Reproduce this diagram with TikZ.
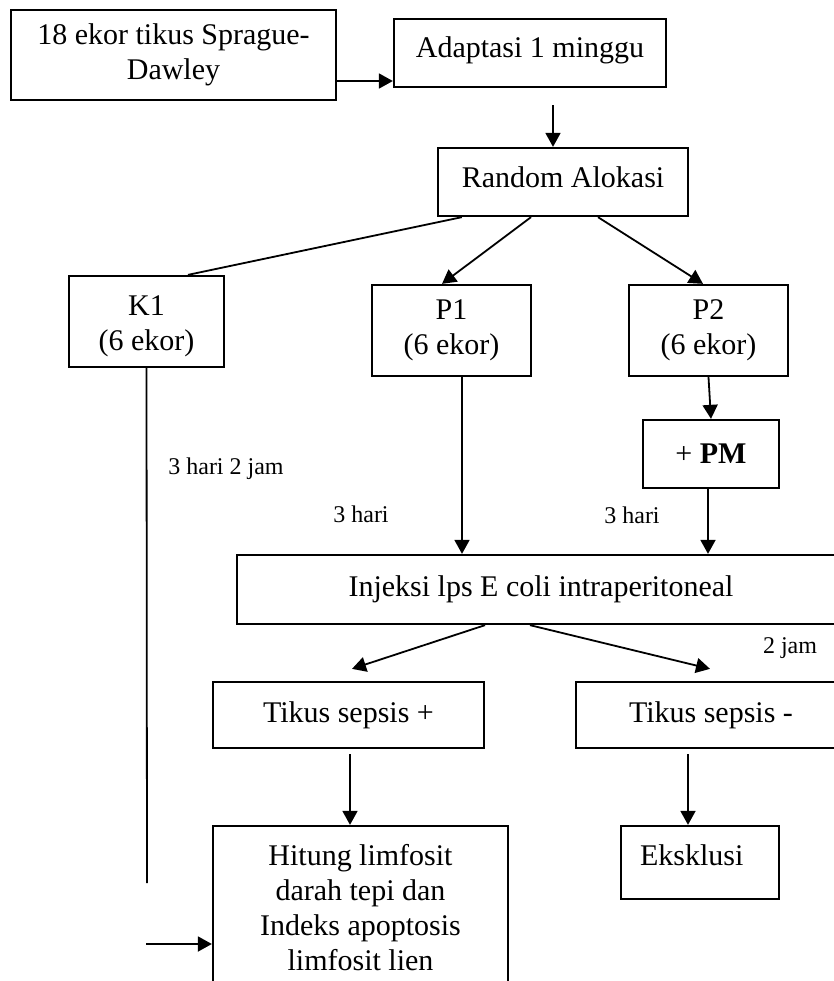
\documentclass[tikz,border=0pt]{standalone}
\usepackage{fontspec}
\setmainfont{Liberation Serif}
\usetikzlibrary{arrows.meta}
\begin{document}
\begin{tikzpicture}[x=0.5pt,y=-0.5pt,
  box/.style={draw,line width=1.15pt,rectangle,inner sep=0pt,align=center,
    font=\fontsize{15}{17.5}\selectfont},
  arr/.style={line width=0.9pt,-{Triangle[length=7pt,width=7.5pt]}},
  link/.style={line width=0.9pt},
  note/.style={font=\fontsize{12}{14}\selectfont,inner sep=0pt}]
\clip (0,0) rectangle (834,981);

% boxes
\node[box,minimum width=162.5pt,minimum height=45pt] (start) at (173.5,55) {18 ekor tikus Sprague-\\Dawley};
\node[box,minimum width=136pt,minimum height=34pt,text height=10pt,text depth=6pt] (adapt) at (530,53) {Adaptasi 1 minggu};
\node[box,minimum width=125pt,minimum height=34pt,text height=10pt,text depth=5pt] (rand) at (563,182) {Random Alokasi};
\node[box,minimum width=77.5pt,minimum height=45.5pt] (k1) at (146.5,321.5) {\rule{0pt}{15pt}K1\\(6 ekor)};
\node[box,minimum width=79.5pt,minimum height=45.5pt] (p1) at (451.5,330.5) {P1\\(6 ekor)};
\node[box,minimum width=79.5pt,minimum height=45.5pt] (p2) at (708.5,330.5) {P2\\(6 ekor)};
\node[box,minimum width=68pt,minimum height=34pt] (pm) at (711,454) {+ \textbf{PM}};
\node[box,minimum width=304pt,minimum height=34.5pt] (inj) at (541,589.5) {Injeksi lps E coli intraperitoneal};
\node[box,minimum width=135.5pt,minimum height=33pt] (tplus) at (348.5,715) {Tikus sepsis +};
\node[box,minimum width=135pt,minimum height=33pt] (tminus) at (711,715) {Tikus sepsis -};
\node[box,minimum width=147.5pt,minimum height=81.5pt] (hit) at (360.5,907.5) {Hitung limfosit\\darah tepi dan\\Indeks apoptosis\\limfosit lien};
\node[box,minimum width=79pt,minimum height=36.5pt,inner xsep=9.5pt,text width=60pt,align=left,
  text height=10pt,text depth=7pt] (eks) at (700,862.5) {Eksklusi};

% free ends of the K1 bypass
\coordinate (k1end) at (147,883);
\coordinate (hitin) at (146,944);

% connectors
\draw[arr] ([yshift=-13pt]start.east) -- ([yshift=-13pt]start.east -| adapt.west);
\draw[arr] ([xshift=11.5pt,yshift=-8.5pt]adapt.south) -- ([xshift=11.5pt]adapt.south |- rand.north);
\draw[link] ([xshift=12.5pt]rand.south west) -- ([xshift=20.75pt]k1.north);
\draw[arr] ([xshift=-16pt]rand.south) -- ([xshift=-4.75pt]p1.north);
\draw[arr] ([xshift=17.5pt]rand.south) -- ([xshift=-2.75pt]p2.north);
\draw[arr] ([xshift=5.25pt]p1.south) -- ([xshift=5.25pt]p1.south |- inj.north);
\draw[arr] (p2.south) -- (pm.north);
\draw[arr] ([xshift=-1.5pt]pm.south) -- ([xshift=-1.5pt]pm.south |- inj.north);
\draw[link] (k1.south) -- (k1end);
\draw[arr] (hitin) -- (hitin -| hit.west);
\draw[arr] ([xshift=-28pt]inj.south) -- ([xshift=1.75pt,yshift=6pt]tplus.north);
\draw[arr] ([xshift=-5.5pt]inj.south) -- ([xshift=-0.5pt,yshift=6pt]tminus.north);
\draw[arr] ([xshift=0.75pt,yshift=-2.5pt]tplus.south) -- ([xshift=0.75pt]tplus.south |- hit.north);
\draw[arr] ([xshift=-11.5pt,yshift=-2.5pt]tminus.south) -- ([xshift=-11.5pt]tminus.south |- eks.north);

% timing notes
\node[note] (t1) at (226,469) {3 hari 2 jam};
\node[note] (t2) at (361,514) {3 hari};
\node[note] (t3) at (632,515) {3 hari};
\node[note] (t4) at (790,648) {2 jam};
\end{tikzpicture}
\end{document}
